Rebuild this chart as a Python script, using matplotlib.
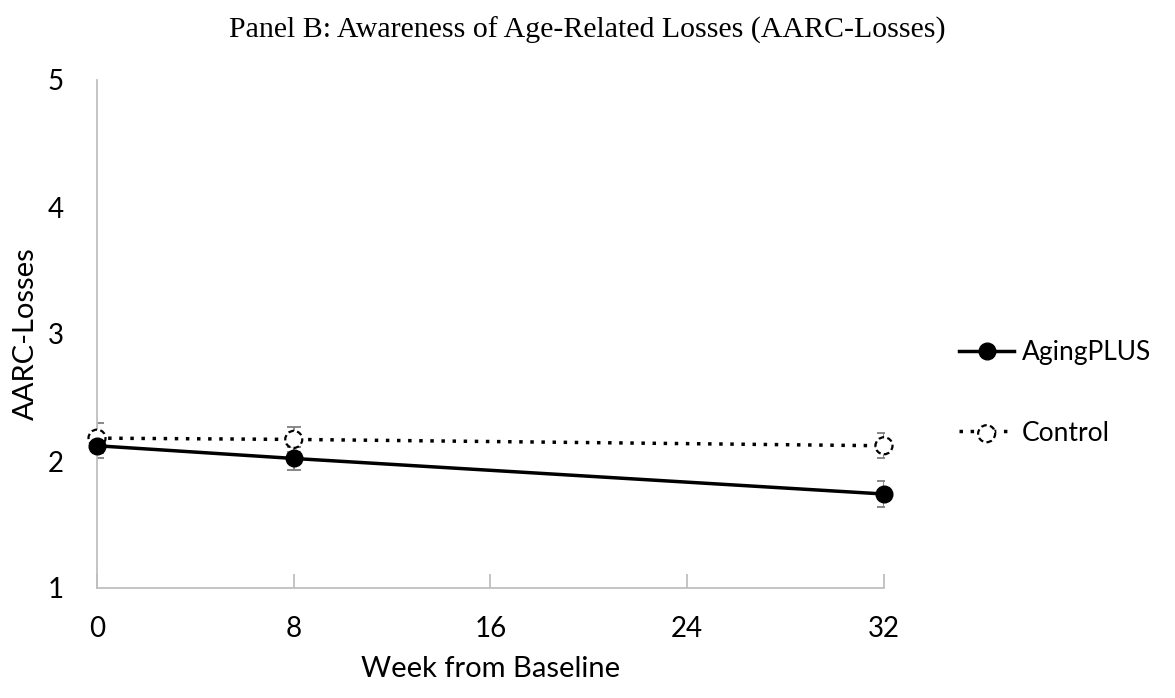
import matplotlib.pyplot as plt

weeks = [0, 8, 32]
aging = [2.12, 2.02, 1.74]
aging_err = [0.10, 0.09, 0.10]
control = [2.18, 2.17, 2.12]
control_err = [0.12, 0.10, 0.10]

xticks = [0, 8, 16, 24, 32]
yticks = [1, 2, 3, 4, 5]

plt.rcParams['font.family'] = ['Lato', 'DejaVu Sans']

fig = plt.figure(figsize=(11.75, 6.98), dpi=100)
ax = fig.add_axes([97 / 1175, 110 / 698, (884 - 97) / 1175, (588 - 80) / 698])

ax.errorbar(weeks, control, yerr=control_err, fmt='none', ecolor='#7f7f7f',
            elinewidth=1.3, capsize=5, capthick=1.3, zorder=2)
ax.errorbar(weeks, aging, yerr=aging_err, fmt='none', ecolor='#7f7f7f',
            elinewidth=1.3, capsize=5, capthick=1.3, zorder=2)

# control: dotted line, open markers with dashed outline
c_line, = ax.plot(weeks, control, linestyle=(0, (1, 2.2)), color='black', lw=2.5,
                  zorder=3, clip_on=False)
c_pts = ax.scatter(weeks, control, s=150, facecolor='white', edgecolor='black',
                   linewidths=1.6, linestyle=(0, (2.5, 1.5)), zorder=3.5, clip_on=False)
a_line, = ax.plot(weeks, aging, '-', color='black', lw=2.5, marker='o', markersize=12,
                  markerfacecolor='black', zorder=4, clip_on=False)

ax.set_xlim(0, 32)
ax.set_ylim(1, 5)
ax.set_xticks(xticks)
ax.set_yticks(yticks)
ax.tick_params(axis='x', direction='in', length=10, color='#bfbfbf', width=1.3,
               labelsize=20, pad=20)
ax.tick_params(axis='y', length=0, labelsize=20, pad=24)
for s in ['top', 'right']:
    ax.spines[s].set_visible(False)
for s in ['left', 'bottom']:
    ax.spines[s].set_color('#bfbfbf')
    ax.spines[s].set_linewidth(1.3)

ax.set_xlabel('Week from Baseline', fontsize=21, labelpad=10)
ax.set_ylabel('AARC-Losses', fontsize=21, labelpad=6)
fig.suptitle('Panel B: Awareness of Age-Related Losses (AARC-Losses)',
             fontsize=21.5, family='Liberation Serif', y=0.957, va='center')

ax.legend([a_line, (c_line, c_pts)], ['AgingPLUS', 'Control'],
          loc='center left', bbox_to_anchor=(1.065, 0.384),
          frameon=False, fontsize=19, handlelength=2.1, handletextpad=0.3,
          labelspacing=2.1, scatterpoints=1)

fig.savefig('out.png', dpi=100)
